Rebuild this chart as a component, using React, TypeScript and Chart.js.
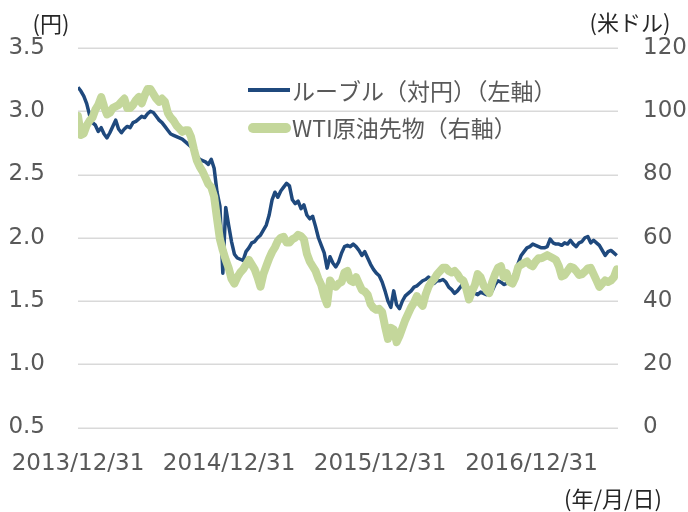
import React, { useEffect, useRef } from "react";
import { Chart, registerables } from "chart.js";

Chart.register(...registerables);

// Weekly samples starting 2013/12/31
const weekStepDays = 7;

const rubleJPY = [
  3.19, 3.16, 3.12, 3.06, 2.97, 2.91, 2.89, 2.84, 2.87, 2.82,
  2.79, 2.83, 2.88, 2.93, 2.86, 2.83, 2.86, 2.88, 2.87, 2.91,
  2.92, 2.94, 2.96, 2.95, 2.98, 3.0, 2.99, 2.96, 2.93, 2.91,
  2.88, 2.85, 2.82, 2.81, 2.8, 2.79, 2.78, 2.76, 2.74, 2.72,
  2.69, 2.65, 2.62, 2.61, 2.6, 2.58, 2.62, 2.55, 2.36, 2.25,
  1.72, 2.24, 2.1, 1.97, 1.87, 1.84, 1.83, 1.82, 1.89, 1.92,
  1.96, 1.97, 2.0, 2.02, 2.06, 2.1, 2.18, 2.3, 2.36, 2.32,
  2.37, 2.4, 2.43, 2.41, 2.3, 2.27, 2.29, 2.23, 2.26, 2.18,
  2.15, 2.17, 2.09, 2.0, 1.94, 1.88, 1.76, 1.85, 1.8, 1.77,
  1.81, 1.88, 1.93, 1.94, 1.93, 1.95, 1.93, 1.9, 1.86, 1.89,
  1.84, 1.79, 1.75, 1.72, 1.7, 1.65, 1.58, 1.5, 1.45, 1.58,
  1.47, 1.44, 1.5, 1.54, 1.56, 1.58, 1.61, 1.62, 1.64, 1.66,
  1.67, 1.69, 1.67, 1.64, 1.66, 1.66, 1.67, 1.65, 1.61, 1.59,
  1.56, 1.58, 1.61, 1.64, 1.63, 1.59, 1.57, 1.56, 1.55, 1.57,
  1.56, 1.55, 1.56, 1.58, 1.63, 1.66, 1.65, 1.63, 1.64, 1.66,
  1.68, 1.73, 1.8, 1.86, 1.89, 1.92, 1.93, 1.95, 1.94, 1.93,
  1.92, 1.92, 1.93, 1.99, 1.96, 1.95, 1.95, 1.94, 1.96, 1.95,
  1.98, 1.95, 1.93, 1.96, 1.97, 2.0, 2.01, 1.96, 1.98, 1.96,
  1.94, 1.9, 1.86, 1.89, 1.9, 1.88, 1.86,
];

const wtiUSD = [
  98.5, 92.5, 93, 95.5, 97, 98, 100.5, 102, 104.5, 101.5,
  99, 99.5, 101, 101.5, 102, 103, 104, 101, 101, 102,
  103.5, 104.5, 102.5, 105, 107, 107, 105.5, 104, 103, 104,
  103, 99.5, 98, 97, 95.5, 94.5, 93.5, 94, 94, 92,
  88, 84.5, 82.5, 81, 79, 77, 76, 73, 66, 59.5,
  56, 53, 50.5, 47, 45.5, 47.5, 49, 50, 51.5, 53,
  51.5, 50, 47.5, 44.5, 48.5, 51, 53.5, 55.5, 57, 59,
  60, 60.3, 58.5, 58.5, 59.5, 60, 60.9, 60.5, 59.5, 55,
  52.5, 51, 49.5, 47, 45, 41.5, 39, 46.5, 45, 44.5,
  45.5, 46, 49, 49.5, 46.5, 46, 47.5, 45.5, 43.5, 43,
  42, 39, 37.8, 37.2, 37.5, 36.5, 32, 28, 31.5, 31,
  27, 29, 31.5, 34, 36, 38, 39.5, 41.5, 39.5, 38.5,
  42, 44.5, 46, 47, 48.5, 49.5, 50.5, 50.5, 49.5, 49,
  49.5, 48.5, 47, 46.5, 44, 40.5, 43, 45, 48.5, 47.5,
  45, 43.5, 42.5, 46, 48.5, 50.5, 51, 47.5, 48.8, 46,
  45.5, 47.5, 50.8, 51.5, 52, 52.5, 51.5, 51, 52.5, 53.5,
  53.5, 54, 54.5, 54, 53.5, 53, 51, 47.8, 48.2, 49.5,
  50.8, 50.5, 49.5, 48.2, 48.5, 49.3, 50.3, 50.5, 48.5, 46.5,
  44.5, 45.5, 46.5, 46, 46.5, 47.5, 50,
];

const xTickDays = [0, 365, 730, 1096];
const xTickLabels = ["2013/12/31", "2014/12/31", "2015/12/31", "2016/12/31"];
const xMaxDay = 1305;
const leftTickValues = [0.5, 1.0, 1.5, 2.0, 2.5, 3.0, 3.5];

const rubleLabel = "ルーブル（対円）（左軸）";
const wtiLabel = "WTI原油先物（右軸）";
const leftUnit = "(円)";
const rightUnit = "(米ドル)";
const xUnit = "(年/月/日)";

const BLUE = "#1f497d";
const GREEN = "#c4d79b";
const TICK = "#595959";

const gridPlugin = {
  id: "gridLines",
  beforeDatasetsDraw(chart: any) {
    const ctx = chart.ctx;
    const a = chart.chartArea;
    const y = chart.scales.yL;
    ctx.save();
    ctx.strokeStyle = "#d9d9d9";
    ctx.lineWidth = 1.5;
    for (const v of leftTickValues) {
      const py = Math.round(y.getPixelForValue(v)) + 0.25;
      ctx.beginPath();
      ctx.moveTo(a.left, py);
      ctx.lineTo(a.right, py);
      ctx.stroke();
    }
    ctx.restore();
  },
};

const overlay = {
  id: "overlay",
  afterDraw(chart: any) {
    const ctx = chart.ctx;
    ctx.save();
    // legend
    ctx.lineCap = "butt";
    ctx.strokeStyle = BLUE;
    ctx.lineWidth = 4;
    ctx.beginPath();
    ctx.moveTo(248, 90);
    ctx.lineTo(290, 90);
    ctx.stroke();
    ctx.strokeStyle = GREEN;
    ctx.lineWidth = 10;
    ctx.lineCap = "round";
    ctx.beginPath();
    ctx.moveTo(253, 128);
    ctx.lineTo(286, 128);
    ctx.stroke();
    ctx.font = '23px "Noto Sans CJK JP"';
    ctx.fillStyle = TICK;
    ctx.textBaseline = "middle";
    ctx.textAlign = "left";
    ctx.fillText(rubleLabel, 292, 91);
    ctx.fillText(wtiLabel, 292, 128);
    // units
    ctx.font = '22px "Noto Sans CJK JP"';
    ctx.fillStyle = "#262626";
    ctx.textAlign = "center";
    ctx.fillText(leftUnit, 51, 24);
    ctx.fillText(rightUnit, 630, 23);
    ctx.fillText(xUnit, 613, 499);
    ctx.restore();
  },
};

export default function App() {
  const ref = useRef<HTMLCanvasElement>(null);
  useEffect(() => {
    if (!ref.current) return;
    const chart = new Chart(ref.current, {
      type: "line",
      data: {
        datasets: [
          {
            label: rubleLabel,
            data: rubleJPY.map((v, i) => ({ x: i * weekStepDays, y: v })),
            borderColor: BLUE,
            backgroundColor: BLUE,
            borderWidth: 3.5,
            pointRadius: 0,
            tension: 0,
            yAxisID: "yL",
            order: 1,
            borderJoinStyle: "round",
          },
          {
            label: wtiLabel,
            data: wtiUSD.map((v, i) => ({ x: i * weekStepDays, y: v })),
            borderColor: GREEN,
            backgroundColor: GREEN,
            borderWidth: 8,
            pointRadius: 0,
            tension: 0,
            yAxisID: "yR",
            order: 0,
            borderJoinStyle: "round",
            borderCapStyle: "round",
          },
        ],
      },
      options: {
        animation: false,
        responsive: false,
        maintainAspectRatio: false,
        layout: { padding: { top: 48, left: 0, right: 0, bottom: 0 } },
        plugins: { legend: { display: false }, tooltip: { enabled: false } },
        scales: {
          x: {
            type: "linear",
            min: 0,
            max: xMaxDay,
            grid: { display: false },
            border: { display: false },
            afterBuildTicks: (s: any) => {
              s.ticks = xTickDays.map((v) => ({ value: v }));
            },
            afterFit: (s: any) => {
              s.height = 84.5;
              s.paddingLeft = 0;
              s.paddingRight = 0;
            },
            ticks: {
              autoSkip: false,
              maxRotation: 0,
              padding: 15,
              color: TICK,
              font: { family: "DejaVu Sans", size: 23 },
              callback: (v: any) => {
                const k = xTickDays.indexOf(Number(v));
                return k >= 0 ? xTickLabels[k] : "";
              },
            },
          },
          yL: {
            position: "left",
            min: 0.5,
            max: 3.5,
            grid: { display: false, drawTicks: false },
            border: { display: false },
            afterFit: (s: any) => {
              s.width = 78;
              s.paddingTop = 0;
              s.paddingBottom = 0;
            },
            ticks: {
              stepSize: 0.5,
              padding: 33,
              color: TICK,
              font: { family: "DejaVu Sans", size: 23 },
              callback: (v: any) => Number(v).toFixed(1),
            },
          },
          yR: {
            position: "right",
            min: 0,
            max: 120,
            grid: { display: false, drawTicks: false },
            border: { display: false },
            afterFit: (s: any) => {
              s.width = 70;
              s.paddingTop = 0;
              s.paddingBottom = 0;
            },
            ticks: {
              stepSize: 20,
              padding: 25,
              color: TICK,
              font: { family: "DejaVu Sans", size: 23 },
            },
          },
        },
      },
      plugins: [gridPlugin, overlay],
    } as any);
    return () => chart.destroy();
  }, []);
  return (
    <div style={{ position: "fixed", left: 0, top: 0, width: 688, height: 512, background: "#fff" }}>
      <canvas ref={ref} width={688} height={512} style={{ width: 688, height: 512 }} />
    </div>
  );
}
